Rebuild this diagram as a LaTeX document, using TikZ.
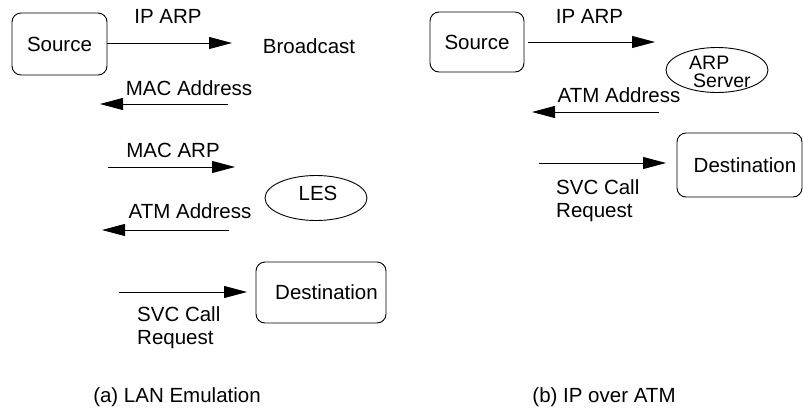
\documentclass[tikz,border=0pt]{standalone}
\usepackage{fontspec}
\setmainfont{Liberation Sans}
\usetikzlibrary{arrows.meta,shapes.geometric}
\begin{document}
\begin{tikzpicture}[x=1pt,y=-1pt,
  font=\fontsize{20.5}{23}\selectfont,
  rbox/.style={draw,line width=0.9pt,rounded corners=9pt,inner sep=0pt},
  oval/.style={draw,line width=0.9pt,ellipse,inner sep=0pt},
  msg/.style={line width=0.9pt,-{Triangle[length=23pt,width=12pt]}},
  lbl/.style={anchor=base,inner sep=0pt}]
\useasboundingbox (0,0) rectangle (803,408);

% ---------- (a) LAN Emulation ----------
\node[rbox,minimum width=95pt,minimum height=62pt] (srcA) at (59.5,44) {Source};
\coordinate (a1e) at (232,43);
\draw[msg] (srcA.east |- a1e) -- (a1e);
\node[lbl] (ipA) at (168,23) {IP ARP};
\node[lbl] (bc) at (309,53) {Broadcast};

\coordinate (a2s) at (228,104);
\coordinate (a2e) at (100,104);
\draw[msg] (a2s) -- (a2e);
\node[lbl] (macaddr) at (189,95) {MAC Address};

\coordinate (a3s) at (108,167);
\coordinate (a3e) at (235,167);
\draw[msg] (a3s) -- (a3e);
\node[lbl] (macarp) at (173,157) {MAC ARP};

\node[oval,minimum width=102pt,minimum height=45pt] (les) at (316,198) {};
\node[lbl] (lestxt) at (318,200) {LES};

\coordinate (a4s) at (229,230);
\coordinate (a4e) at (102,230);
\draw[msg] (a4s) -- (a4e);
\node[lbl] (atmA) at (190,218) {ATM Address};

\node[rbox,minimum width=130pt,minimum height=61pt] (dstA) at (321,292.5) {\hspace*{11pt}Destination};
\coordinate (a5s) at (119,292);
\coordinate (a5e) at (247,292);
\draw[msg] (a5s) -- (a5e);
\node[anchor=north west,align=left,inner sep=0pt] (svcA) at (137,306) {SVC Call\\Request};

\node[lbl] (capA) at (177,402) {(a) LAN Emulation};

% ---------- (b) IP over ATM ----------
\node[rbox,minimum width=94pt,minimum height=60pt] (srcB) at (477,42) {Source};
\coordinate (b1s) at (528,42);
\coordinate (b1e) at (655,42);
\draw[msg] (b1s) -- (b1e);
\node[lbl] (ipB) at (589.5,23) {IP ARP};

\node[oval,minimum width=102pt,minimum height=45pt] (arp) at (717,70) {};
\node[anchor=north west,align=left,inner sep=0pt,
      font=\fontsize{19.5}{18}\selectfont] (arptxt) at (689,56) {ARP\\\hspace*{4pt}Server};

\coordinate (b2s) at (659,112);
\coordinate (b2e) at (532,112);
\draw[msg] (b2s) -- (b2e);
\node[lbl] (atmB) at (619,102) {ATM Address};

\node[rbox,minimum width=125pt,minimum height=64pt] (dstB) at (739.5,165) {\hspace*{11pt}Destination};
\coordinate (b3s) at (539,163);
\coordinate (b3e) at (666,163);
\draw[msg] (b3s) -- (b3e);
\node[anchor=north west,align=left,inner sep=0pt] (svcB) at (556,179) {SVC Call\\Request};

\node[lbl] (capB) at (604,402) {(b) IP over ATM};
\end{tikzpicture}
\end{document}
